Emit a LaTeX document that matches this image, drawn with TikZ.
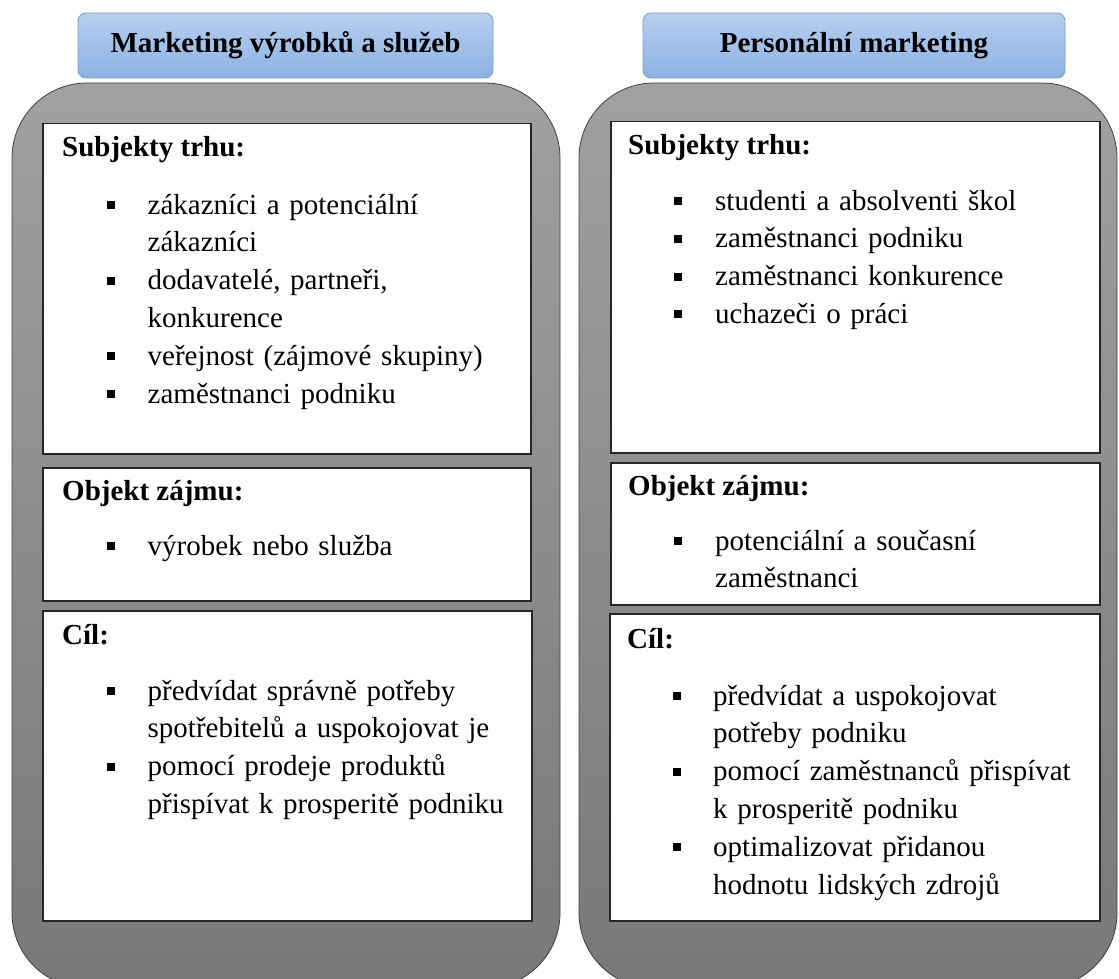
\documentclass[tikz,border=0pt]{standalone}
\usepackage{fontspec}
\setmainfont{Liberation Serif}

\definecolor{titletop}{RGB}{182,207,239}
\definecolor{titlebot}{RGB}{140,178,226}
\definecolor{titleline}{RGB}{118,158,208}

% bullet item with hanging text
\newcommand{\bul}[1][40.5pt]{\hangindent=#1\hangafter=1\noindent\makebox[#1][l]{\rule[5pt]{8pt}{8pt}}\ignorespaces}

\begin{document}
\begin{tikzpicture}
        [
            x=1pt, y=-1pt,
            every node/.style={font=\fontsize{29}{37.8}\selectfont, inner sep=0pt},
            panel/.style={draw=black!75, line width=0.8pt, rounded corners=75pt,
                top color=black!37, bottom color=black!53},
            titlebox/.style={draw=titleline, line width=0.8pt, rounded corners=8pt,
                top color=titletop, bottom color=titlebot, font=\fontsize{29}{34}\selectfont\bfseries},
            whitebox/.style={draw=black!85, fill=white, line width=1.5pt, anchor=north west},
            head/.style={anchor=base west, font=\fontsize{29}{34}\selectfont\bfseries},
            items/.style={anchor=base west, text width=425pt, align=left},
        ]
        \useasboundingbox (0,0) rectangle (1119,979);

        % the two grey panels
        \path[panel] (12,83) rectangle (560,988);
        \path[panel] (579,83) rectangle (1117,988);

        % titles
        \node[titlebox, minimum width=415pt, minimum height=65pt] (ltitle) at (285.5,45.5) {Marketing výrobků a služeb};
        \node[titlebox, minimum width=422pt, minimum height=65pt] (rtitle) at (854,45.5) {Personální marketing};

        % left column
        \node[whitebox, minimum width=488pt, minimum height=330pt] (lsubj) at (42,123) {};
        \node[whitebox, minimum width=488pt, minimum height=133pt] (lobj) at (42,467) {};
        \node[whitebox, minimum width=489pt, minimum height=310pt] (lgoal) at (42,610) {};

        \node[head] (lsubjh) at (62,157) {Subjekty trhu:};
        \node[items] (lsubjl) at (107,214) {%
            \bul zákazníci a potenciální\newline zákazníci
            \par\bul dodavatelé, partneři,\newline konkurence
            \par\bul veřejnost (zájmové skupiny)
            \par\bul zaměstnanci podniku\par};
        \node[head] (lobjh) at (62,500) {Objekt zájmu:};
        \node[items] (lobjl) at (107,555) {\bul výrobek nebo služba\par};
        \node[head] (lgoalh) at (62,644) {Cíl:};
        \node[items] (lgoall) at (107,700) {%
            \bul předvídat správně potřeby\newline spotřebitelů a uspokojovat je
            \par\bul pomocí prodeje produktů\newline přispívat k prosperitě podniku\par};

        % right column
        \node[whitebox, minimum width=489pt, minimum height=331pt] (rsubj) at (610,121) {};
        \node[whitebox, minimum width=489pt, minimum height=142pt] (robj) at (610,462) {};
        \node[whitebox, minimum width=490pt, minimum height=307pt] (rgoal) at (609,613) {};

        \node[head] (rsubjh) at (628,155) {Subjekty trhu:};
        \node[items] (rsubjl) at (674,210) {%
            \bul[41pt] studenti a absolventi škol
            \par\bul[41pt] zaměstnanci podniku
            \par\bul[41pt] zaměstnanci konkurence
            \par\bul[41pt] uchazeči o práci\par};
        \node[head] (robjh) at (628,495) {Objekt zájmu:};
        \node[items] (robjl) at (674,550) {\bul[41pt] potenciální a současní\newline zaměstnanci\par};
        \node[head] (rgoalh) at (627,648) {Cíl:};
        \node[items] (rgoall) at (673,705) {%
            \bul[40pt] předvídat a uspokojovat\newline potřeby podniku
            \par\bul[40pt] pomocí zaměstnanců přispívat\newline k prosperitě podniku
            \par\bul[40pt] optimalizovat přidanou\newline hodnotu lidských zdrojů\par};
    \end{tikzpicture}
\end{document}
